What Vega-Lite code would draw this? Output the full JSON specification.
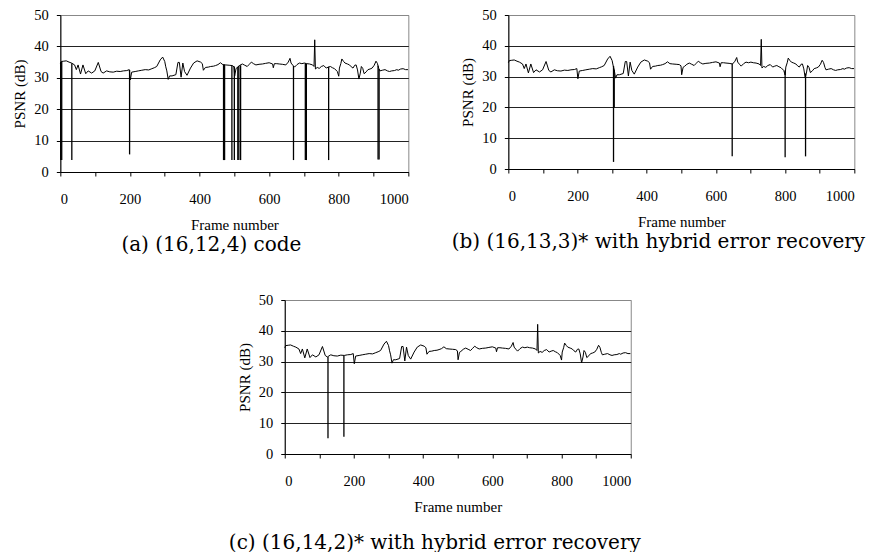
{
  "$schema": "https://vega.github.io/schema/vega-lite/v6.json",
  "padding": {"left": 12, "top": 6, "right": 5, "bottom": 0},
  "background": "white",
  "config": {
    "font": "Liberation Serif",
    "view": {"stroke": "#888888", "strokeWidth": 1},
    "axis": {
      "labelFont": "Liberation Serif", "labelFontSize": 14.5, "labelColor": "black",
      "titleFont": "Liberation Serif", "titleFontSize": 15, "titleFontWeight": "normal", "titleColor": "black",
      "domainColor": "black", "tickColor": "black"
    },
    "axisX": {"values": [0, 200, 400, 600, 800, 1000], "format": "d", "grid": false, "tickSize": 4, "labelPadding": 16, "titlePadding": 12},
    "axisY": {"values": [0, 10, 20, 30, 40, 50], "format": "d", "grid": true, "tickSize": 4, "labelPadding": 8, "titlePadding": 6,
              "gridColor": {"condition": {"test": "datum.value === 50", "value": "#888888"}, "value": "#222222"}},
    "title": {"font": "DejaVu Serif", "fontSize": 20, "fontWeight": "normal", "color": "black", "frame": "bounds", "anchor": "middle"}
  },
  "datasets": {
    "base": [
      {"frame": 0, "psnr": 34.5}, {"frame": 3, "psnr": 35.2}, {"frame": 10, "psnr": 35.3}, {"frame": 17, "psnr": 35.4},
      {"frame": 25, "psnr": 35.0}, {"frame": 32, "psnr": 34.7}, {"frame": 41, "psnr": 34.1}, {"frame": 46, "psnr": 32.6},
      {"frame": 51, "psnr": 34.1}, {"frame": 58, "psnr": 31.2}, {"frame": 65, "psnr": 34.1}, {"frame": 73, "psnr": 31.3},
      {"frame": 80, "psnr": 32.2}, {"frame": 90, "psnr": 31.5}, {"frame": 99, "psnr": 32.2}, {"frame": 109, "psnr": 34.9},
      {"frame": 117, "psnr": 32.0}, {"frame": 123, "psnr": 31.5}, {"frame": 133, "psnr": 32.2}, {"frame": 142, "psnr": 31.9},
      {"frame": 152, "psnr": 31.8}, {"frame": 162, "psnr": 32.1}, {"frame": 172, "psnr": 32.0}, {"frame": 181, "psnr": 32.2},
      {"frame": 191, "psnr": 32.3}, {"frame": 198, "psnr": 32.6}, {"frame": 201, "psnr": 29.3}, {"frame": 205, "psnr": 31.8},
      {"frame": 215, "psnr": 32.0}, {"frame": 224, "psnr": 32.2}, {"frame": 234, "psnr": 32.4}, {"frame": 244, "psnr": 32.6},
      {"frame": 254, "psnr": 32.5}, {"frame": 263, "psnr": 32.9}, {"frame": 270, "psnr": 33.2}, {"frame": 277, "psnr": 33.6},
      {"frame": 287, "psnr": 35.7}, {"frame": 294, "psnr": 36.6}, {"frame": 300, "psnr": 35.2}, {"frame": 303, "psnr": 33.5},
      {"frame": 306, "psnr": 32.2}, {"frame": 310, "psnr": 29.5}, {"frame": 314, "psnr": 30.6}, {"frame": 321, "psnr": 30.6},
      {"frame": 332, "psnr": 31.0}, {"frame": 338, "psnr": 34.9}, {"frame": 342, "psnr": 34.9}, {"frame": 347, "psnr": 30.2},
      {"frame": 352, "psnr": 34.7}, {"frame": 357, "psnr": 32.0}, {"frame": 364, "psnr": 30.8}, {"frame": 374, "psnr": 33.1},
      {"frame": 383, "psnr": 34.7}, {"frame": 393, "psnr": 35.4}, {"frame": 403, "psnr": 35.0}, {"frame": 408, "psnr": 34.5},
      {"frame": 411, "psnr": 32.4}, {"frame": 417, "psnr": 33.3}, {"frame": 425, "psnr": 33.4}, {"frame": 432, "psnr": 33.6},
      {"frame": 440, "psnr": 33.7}, {"frame": 446, "psnr": 33.9}, {"frame": 453, "psnr": 34.2}, {"frame": 460, "psnr": 34.8},
      {"frame": 467, "psnr": 34.2}, {"frame": 475, "psnr": 34.1}, {"frame": 485, "psnr": 34.0}, {"frame": 494, "psnr": 33.9},
      {"frame": 499, "psnr": 33.5}, {"frame": 501, "psnr": 30.6}, {"frame": 505, "psnr": 33.0}, {"frame": 509, "psnr": 33.3},
      {"frame": 516, "psnr": 34.0}, {"frame": 523, "psnr": 34.4}, {"frame": 530, "psnr": 34.0}, {"frame": 537, "psnr": 33.6},
      {"frame": 543, "psnr": 34.3}, {"frame": 549, "psnr": 35.0}, {"frame": 555, "psnr": 34.5}, {"frame": 562, "psnr": 34.1},
      {"frame": 571, "psnr": 34.3}, {"frame": 581, "psnr": 34.4}, {"frame": 590, "psnr": 34.6}, {"frame": 600, "psnr": 34.8},
      {"frame": 610, "psnr": 34.4}, {"frame": 612, "psnr": 33.2}, {"frame": 615, "psnr": 34.5}, {"frame": 622, "psnr": 34.5},
      {"frame": 629, "psnr": 34.4}, {"frame": 638, "psnr": 34.3}, {"frame": 648, "psnr": 34.1}, {"frame": 655, "psnr": 35.0},
      {"frame": 660, "psnr": 36.2}, {"frame": 663, "psnr": 34.7}, {"frame": 668, "psnr": 34.0}, {"frame": 673, "psnr": 33.4},
      {"frame": 680, "psnr": 34.2}, {"frame": 687, "psnr": 34.7}, {"frame": 694, "psnr": 34.5}, {"frame": 701, "psnr": 34.7},
      {"frame": 708, "psnr": 34.5}, {"frame": 716, "psnr": 34.4}, {"frame": 725, "psnr": 34.1}, {"frame": 729, "psnr": 33.6},
      {"frame": 731, "psnr": 42.1}, {"frame": 733, "psnr": 32.8}, {"frame": 738, "psnr": 33.3}, {"frame": 744, "psnr": 33.0},
      {"frame": 750, "psnr": 33.6}, {"frame": 757, "psnr": 33.9}, {"frame": 764, "psnr": 33.1}, {"frame": 770, "psnr": 33.4},
      {"frame": 776, "psnr": 33.6}, {"frame": 782, "psnr": 33.2}, {"frame": 788, "psnr": 32.9}, {"frame": 796, "psnr": 32.0},
      {"frame": 800, "psnr": 30.5}, {"frame": 802, "psnr": 33.1}, {"frame": 806, "psnr": 34.5}, {"frame": 809, "psnr": 36.0},
      {"frame": 814, "psnr": 35.2}, {"frame": 818, "psnr": 34.7}, {"frame": 825, "psnr": 34.4}, {"frame": 831, "psnr": 34.1},
      {"frame": 836, "psnr": 33.5}, {"frame": 841, "psnr": 33.1}, {"frame": 846, "psnr": 34.0}, {"frame": 850, "psnr": 34.1},
      {"frame": 854, "psnr": 32.5}, {"frame": 858, "psnr": 29.6}, {"frame": 862, "psnr": 31.5}, {"frame": 865, "psnr": 33.6},
      {"frame": 869, "psnr": 33.0}, {"frame": 873, "psnr": 31.3}, {"frame": 879, "psnr": 31.9}, {"frame": 884, "psnr": 32.6},
      {"frame": 890, "psnr": 32.8}, {"frame": 896, "psnr": 33.1}, {"frame": 902, "psnr": 34.0}, {"frame": 907, "psnr": 35.3},
      {"frame": 911, "psnr": 34.6}, {"frame": 915, "psnr": 33.0}, {"frame": 918, "psnr": 32.2}, {"frame": 925, "psnr": 32.4},
      {"frame": 933, "psnr": 32.6}, {"frame": 940, "psnr": 32.2}, {"frame": 946, "psnr": 32.0}, {"frame": 952, "psnr": 32.2},
      {"frame": 960, "psnr": 32.3}, {"frame": 967, "psnr": 32.6}, {"frame": 971, "psnr": 32.4}, {"frame": 978, "psnr": 32.8},
      {"frame": 985, "psnr": 32.9}, {"frame": 992, "psnr": 32.6}, {"frame": 999, "psnr": 32.6}
    ],
    "dropsA": [
      {"frame": 1, "psnr": 35.0, "bottom": 3.8}, {"frame": 4, "psnr": 35.2, "bottom": 3.8},
      {"frame": 33, "psnr": 34.6, "bottom": 3.8}, {"frame": 199, "psnr": 32.5, "bottom": 5.6},
      {"frame": 469, "psnr": 34.2, "bottom": 3.8}, {"frame": 472, "psnr": 34.2, "bottom": 3.8},
      {"frame": 493, "psnr": 33.9, "bottom": 3.8}, {"frame": 500, "psnr": 33.6, "bottom": 3.8},
      {"frame": 510, "psnr": 33.5, "bottom": 3.8}, {"frame": 513, "psnr": 33.8, "bottom": 3.8},
      {"frame": 518, "psnr": 34.0, "bottom": 3.8}, {"frame": 670, "psnr": 33.8, "bottom": 3.8},
      {"frame": 704, "psnr": 34.6, "bottom": 3.8}, {"frame": 707, "psnr": 34.5, "bottom": 3.8},
      {"frame": 771, "psnr": 33.5, "bottom": 3.8}, {"frame": 913, "psnr": 33.8, "bottom": 4.0},
      {"frame": 916, "psnr": 32.8, "bottom": 4.0}
    ],
    "dropsB": [
      {"frame": 304, "psnr": 33.5, "bottom": 2.3}, {"frame": 306, "psnr": 32.2, "bottom": 20.0},
      {"frame": 647, "psnr": 34.2, "bottom": 4.1}, {"frame": 800, "psnr": 32.0, "bottom": 3.8},
      {"frame": 859, "psnr": 31.0, "bottom": 4.1}
    ],
    "dropsC": [
      {"frame": 125, "psnr": 31.5, "bottom": 5.1}, {"frame": 171, "psnr": 32.0, "bottom": 5.6}
    ]
  },
  "spacing": 36,
  "center": true,
  "vconcat": [
    {
      "spacing": 39,
      "hconcat": [
        {
          "width": 348, "height": 157,
          "title": {"text": "(a) (16,12,4) code", "orient": "bottom", "offset": 2},
          "encoding": {
            "x": {"field": "frame", "type": "quantitative", "scale": {"domain": [0, 1000], "nice": false}, "axis": {"title": "Frame number"}},
            "y": {"field": "psnr", "type": "quantitative", "scale": {"domain": [0, 50], "nice": false}, "axis": {"title": "PSNR (dB)"}}
          },
          "layer": [
            {"data": {"name": "base"}, "mark": {"type": "line", "color": "black", "strokeWidth": 1}},
            {"data": {"name": "dropsA"}, "mark": {"type": "rule", "color": "black", "strokeWidth": 1.3}, "encoding": {"y2": {"field": "bottom"}}}
          ]
        },
        {
          "width": 346, "height": 154,
          "title": {"text": "(b) (16,13,3)* with hybrid error recovery", "orient": "bottom", "offset": 2},
          "encoding": {
            "x": {"field": "frame", "type": "quantitative", "scale": {"domain": [0, 1000], "nice": false}, "axis": {"title": "Frame number"}},
            "y": {"field": "psnr", "type": "quantitative", "scale": {"domain": [0, 50], "nice": false}, "axis": {"title": "PSNR (dB)"}}
          },
          "layer": [
            {"data": {"name": "base"}, "mark": {"type": "line", "color": "black", "strokeWidth": 1}},
            {"data": {"name": "dropsB"}, "mark": {"type": "rule", "color": "black", "strokeWidth": 1.3}, "encoding": {"y2": {"field": "bottom"}}}
          ]
        }
      ]
    },
    {
      "width": 346, "height": 154,
      "title": {"text": "(c) (16,14,2)* with hybrid error recovery", "orient": "bottom", "offset": 18},
      "encoding": {
        "x": {"field": "frame", "type": "quantitative", "scale": {"domain": [0, 1000], "nice": false}, "axis": {"title": "Frame number"}},
        "y": {"field": "psnr", "type": "quantitative", "scale": {"domain": [0, 50], "nice": false}, "axis": {"title": "PSNR (dB)"}}
      },
      "layer": [
        {"data": {"name": "base"}, "mark": {"type": "line", "color": "black", "strokeWidth": 1}},
        {"data": {"name": "dropsC"}, "mark": {"type": "rule", "color": "black", "strokeWidth": 1.3}, "encoding": {"y2": {"field": "bottom"}}}
      ]
    }
  ]
}
